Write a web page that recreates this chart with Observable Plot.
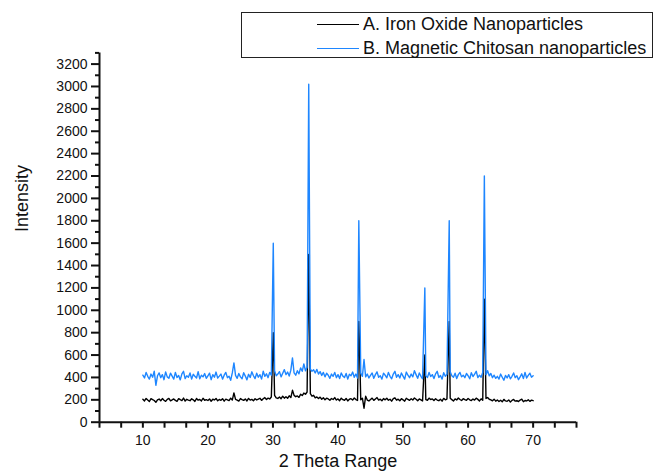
<!DOCTYPE html>
<html>
<head>
<meta charset="utf-8">
<script src="https://cdn.jsdelivr.net/npm/d3@7"></script>
<script src="https://cdn.jsdelivr.net/npm/@observablehq/plot@0.6"></script>
<style>
  html, body { margin: 0; padding: 0; background: #fff; overflow: hidden; }
  #wrap { position: relative; width: 657px; height: 475px; font-family: "Liberation Sans", Arial, sans-serif; }
  #legend { position: absolute; left: 241px; top: 12px; width: 410px; height: 44px; border: 1px solid #222; background: #fff; }
  .row { position: absolute; left: 0; height: 20px; width: 100%; }
  .sw { position: absolute; left: 75px; width: 42px; height: 0; top: 10px; border-top: 1.3px solid; }
  .lab { position: absolute; left: 121px; top: 0; font-size: 18px; line-height: 20px; color: #111; white-space: nowrap; }
</style>
</head>
<body>
<div id="wrap"></div>
<script>
// 2-theta grid: starts at 10, step 0.25, ends at 70
const gridStart = 10;
const gridStep = 0.25;

// A. Iron Oxide Nanoparticles: background intensity (10 .. 70)
const ironBase = [
  205,190,212,198, 185,210,202,194, 178,200,207,192, 211,196,186,204, 213,191,199,208,
  195,187,210,201, 193,216,189,205, 198,192,209,200, 186,212,197,203, 190,214,196,202,
  194,208,187,205, 199,212,191,203, 196,210,188,206, 200,193,215,198, 262,204,198,189,
  211,202,195,208, 190,213,197,204, 192,210,199,206, 214,195,209,220, 203,215,208,225,
  230,240,218,212, 225,210,232,215, 228,214,236,220, 285,240,228,235, 222,250,238,260,
  250,270,260,255, 232,240,218,226, 212,224,205,218, 200,215,208,196, 212,203,220,198,
  208,192,215,201, 196,212,190,205, 210,198,216,202, 194,209,200,215, 125,232,198,190,
  203,215,195,208, 220,198,206,192, 211,200,214,196, 205,188,210,218, 197,206,192,210,
  200,188,214,203, 195,210,198,216, 205,192,208,200, 190,212,202,196, 215,203,208,194,
  210,198,192,205, 188,213,200,207, 196,214,202,190, 208,199,216,203, 194,210,201,196,
  212,200,193,207, 198,215,204,190, 209,196,203,212, 220,205,199,191, 206,188,198,185,
  196,182,204,190, 187,199,180,195, 203,188,192,185, 198,206,183,194, 190,201,186,197,
  192
];

// B. Magnetic Chitosan nanoparticles: background intensity (10 .. 70)
const chitosanBase = [
  420,395,445,410, 385,430,402,455, 330,415,440,398, 425,380,450,405, 392,438,412,385,
  445,400,418,378, 432,455,390,415, 402,440,385,428, 410,395,452,388, 420,405,435,392,
  415,438,380,425, 402,448,395,412, 430,385,420,445, 398,410,375,440, 530,418,392,435,
  405,388,442,412, 378,428,400,450, 415,390,438,402, 425,385,455,410, 432,398,445,420,
  440,460,415,430, 452,405,438,470, 425,448,412,465, 575,440,420,460, 432,485,455,520,
  460,490,480,475, 455,468,440,472, 430,452,418,445, 405,438,420,392, 430,410,445,398,
  425,390,440,412, 400,435,385,428, 415,448,402,430, 395,420,438,410, 560,405,430,395,
  418,440,392,425, 450,402,415,385, 438,420,396,445, 410,388,430,455, 402,425,395,440,
  412,385,448,420, 398,430,405,460, 425,392,440,410, 388,435,415,400, 445,408,425,390,
  432,455,400,418, 385,442,410,428, 395,450,415,402, 438,390,425,445, 405,420,398,435,
  415,388,442,408, 430,455,398,420, 402,445,390,425, 460,415,435,398, 420,392,410,385,
  430,402,375,418, 395,425,388,410, 440,398,415,380, 405,432,390,445, 395,418,438,402,
  415
];

// Diffraction peaks
const peakPos = [30.05, 35.5, 43.2, 53.35, 57.1, 62.5];
const ironPeaks = [800, 1500, 900, 600, 900, 1100];
const chitosanPeaks = [1600, 3020, 1800, 1200, 1800, 2200];

// Axis ticks
const xTicks = [10, 20, 30, 40, 50, 60, 70];
const xMinorTicks = [3.333, 6.667, 13.333, 16.667, 23.333, 26.667, 33.333, 36.667, 43.333, 46.667, 53.333, 56.667, 63.333, 66.667, 73.333, 76.667];
const yTicks = [0,200,400,600,800,1000,1200,1400,1600,1800,2000,2200,2400,2600,2800,3000,3200];
const yMinorTicks = [100,300,500,700,900,1100,1300,1500,1700,1900,2100,2300,2500,2700,2900,3100,3300];

const seriesNames = ["A. Iron Oxide Nanoparticles", "B. Magnetic Chitosan nanoparticles"];
const seriesColors = ["#000000", "#1e86ff"];

function build(base, peaks) {
  const pts = base.map((y, i) => ({x: gridStart + i * gridStep, y}))
    .filter(d => !peakPos.some(p => Math.abs(d.x - p) < 0.13));
  peakPos.forEach((p, i) => pts.push({x: p, y: peaks[i]}));
  return pts.sort((a, b) => a.x - b.x);
}
const iron = build(ironBase, ironPeaks);
const chitosan = build(chitosanBase, chitosanPeaks);

const xMin = 10 / 3, xMax = 230 / 3;

const chart = Plot.plot({
  width: 657,
  height: 475,
  marginLeft: 99,
  marginRight: 81,
  marginTop: 52.4,
  marginBottom: 53.3,
  style: {fontFamily: '"Liberation Sans", Arial, sans-serif', color: "#111", background: "#fff"},
  x: {domain: [xMin, xMax]},
  y: {domain: [0, 3300]},
  marks: [
    Plot.line(iron, {x: "x", y: "y", stroke: seriesColors[0], strokeWidth: 1.4}),
    Plot.line(chitosan, {x: "x", y: "y", stroke: seriesColors[1], strokeWidth: 1.4}),
    Plot.axisX({ticks: xTicks, tickSize: 6, tickPadding: 7, fontSize: 14, label: null, strokeWidth: 2, tickFormat: d => String(d)}),
    Plot.axisX({ticks: xMinorTicks, tickSize: 6, text: null, label: null, strokeWidth: 2}),
    Plot.axisY({ticks: yTicks, tickSize: 8, tickPadding: 4, fontSize: 14, label: null, strokeWidth: 2, tickFormat: d => String(d)}),
    Plot.axisY({ticks: yMinorTicks, tickSize: 4, text: null, label: null, strokeWidth: 2}),
    Plot.ruleX([xMin], {strokeWidth: 2}),
    Plot.ruleY([0], {strokeWidth: 2}),
    Plot.text(["2 Theta Range"], {frameAnchor: "bottom", dy: 45, fontSize: 18, fill: "#111"}),
    Plot.text(["Intensity"], {frameAnchor: "left", dx: -77, dy: -5.5, rotate: -90, fontSize: 18, fill: "#111"})
  ]
});

const wrap = document.getElementById("wrap");
wrap.appendChild(chart);

const legend = document.createElement("div");
legend.id = "legend";
seriesNames.forEach((name, i) => {
  const row = document.createElement("div");
  row.className = "row";
  row.style.top = (i === 0 ? 1 : 25) + "px";
  const sw = document.createElement("div");
  sw.className = "sw";
  sw.style.borderTopColor = seriesColors[i];
  const lab = document.createElement("div");
  lab.className = "lab";
  lab.textContent = name;
  row.appendChild(sw);
  row.appendChild(lab);
  legend.appendChild(row);
});
wrap.appendChild(legend);
</script>
</body>
</html>
